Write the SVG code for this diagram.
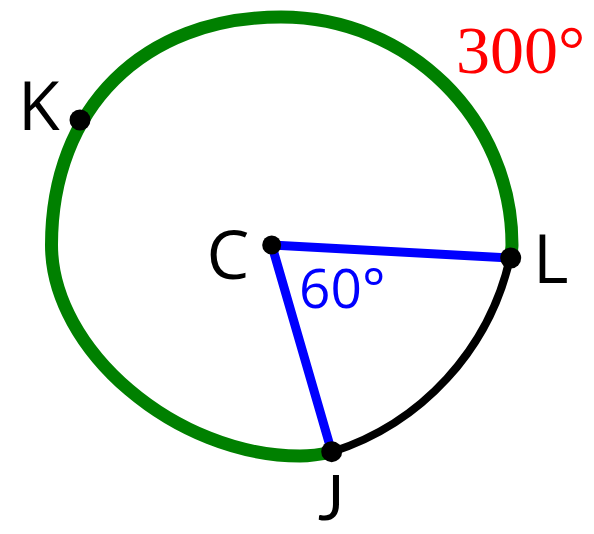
<svg xmlns="http://www.w3.org/2000/svg" width="594" height="534" viewBox="0 0 594 534">
<style>
.lbl{font-family:"Open Sans","Noto Sans","DejaVu Sans",sans-serif;font-size:68px;fill:#000}
.dot{fill:#000}
</style>
<rect width="594" height="534" fill="#fff"/>
<g id="connectors" fill="none" stroke-linecap="round">
<path id="major-arc" d="M510 258 C511 253 512 249 512 245 C512 119 408.6 17 281 17 C143.3 17 51.5 108 51.5 245 C51.5 350 175.8 456 300 456 C313 456 323 454 332 452" stroke="#008000" stroke-width="13"/>
<path id="minor-arc" d="M510 258 A265 265 0 0 1 332 452" stroke="#000" stroke-width="8"/>
<line id="CL" x1="271.7" y1="245" x2="510.7" y2="258" stroke="#0000ff" stroke-width="9"/>
<line id="CJ" x1="271.7" y1="245" x2="331.7" y2="451.7" stroke="#0000ff" stroke-width="9"/>
</g>
<g id="K"><circle class="dot" cx="80" cy="120" r="10.5"/><text class="lbl" x="18" y="130">K</text></g>
<g id="C"><circle class="dot" cx="271.7" cy="245" r="9.5"/><text class="lbl" x="228" y="279" text-anchor="middle">C</text></g>
<g id="L"><circle class="dot" cx="510.7" cy="258" r="10.5"/><text class="lbl" x="533" y="283">L</text></g>
<g id="J"><circle class="dot" cx="331.7" cy="451.7" r="10.5"/><text x="331" y="520" text-anchor="middle" font-family="Lato,'Open Sans',sans-serif" font-size="62" fill="#000">J</text></g>
<text id="angle" x="299" y="308" font-family="'Open Sans','Noto Sans',sans-serif" font-size="55" fill="#0000ff">60°</text>
<text id="arc-measure" x="456" y="73" font-family="'Liberation Serif','Times New Roman',serif" font-size="68" fill="#ff0000">300°</text>
</svg>
